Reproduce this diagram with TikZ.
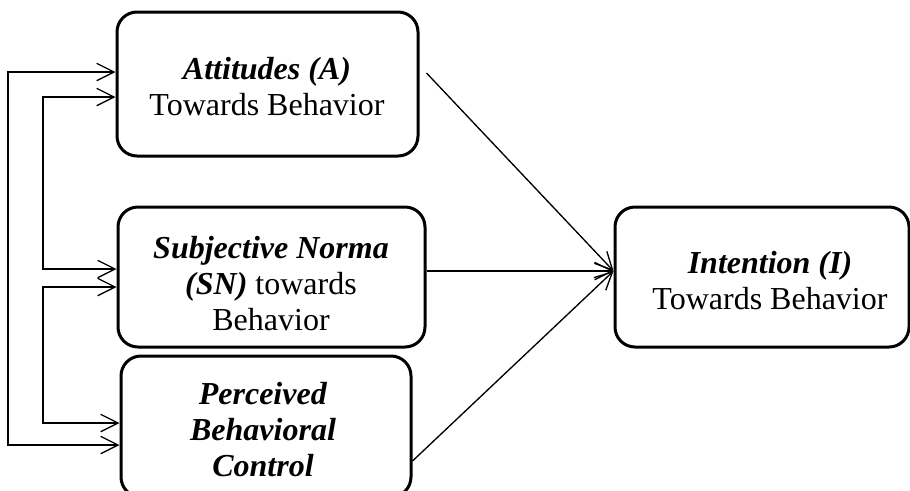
\documentclass[tikz,border=0pt]{standalone}
\usepackage{fontspec}
\setmainfont{Liberation Serif}
\usetikzlibrary{arrows.meta}
\begin{document}
\begin{tikzpicture}[x=0.75pt,y=-0.75pt,
  box/.style={draw, line width=2.25pt, rounded corners=15pt, inner sep=0pt},
  txt/.style={align=center, inner sep=0pt, font=\fontsize{24}{27}\selectfont},
  conn/.style={line width=1pt, -{Straight Barb[length=13pt,width=13pt]}},
  connb/.style={line width=1pt, {Straight Barb[length=13pt,width=13pt]}-{Straight Barb[length=13pt,width=13pt]}}]
\useasboundingbox (0,0) rectangle (910,490);
\clip (0,0) rectangle (910,490);
% boxes
\node[box, minimum width=225.75pt, minimum height=108pt] (A) at (267.5,84) {};
\node[box, minimum width=230.25pt, minimum height=105pt] (S) at (271.5,277) {};
\node[box, minimum width=217.5pt, minimum height=105.75pt] (P) at (266,426.5) {};
\node[box, minimum width=220.5pt, minimum height=105pt] (I) at (762,277) {};
% texts
\node[txt] (tA) at (267,87) {\textbf{\textit{Attitudes (A)}}\\Towards Behavior};
\node[txt] (tS) at (271,284) {\textbf{\textit{Subjective Norma}}\\\textbf{\textit{(SN)}} towards\\Behavior};
\node[txt] (tP) at (263,430) {\textbf{\textit{Perceived}}\\\textbf{\textit{Behavioral}}\\\textbf{\textit{Control}}};
\node[txt] (tI) at (770,281) {\textbf{\textit{Intention (I)}}\\Towards Behavior};
% left feedback connectors
\coordinate (o1) at (8,72);
\coordinate (o2) at (8,445);
\coordinate (i1) at (43,97);
\coordinate (i2) at (43,269);
\coordinate (i3) at (43,287);
\coordinate (i4) at (43,423);
\draw[connb] (A.west |- o1) -- (o1) -- (o2) -- (P.west |- o2);
\draw[connb] (A.west |- i1) -- (i1) -- (i2) -- (S.west |- i2);
\draw[connb] (S.west |- i3) -- (i3) -- (i4) -- (P.west |- i4);
% connectors to intention
\draw[conn] ([shift={(7,-11)}]A.east) -- ([shift={(0,-6)}]I.west);
\draw[conn] ([shift={(0,-6)}]S.east) -- ([shift={(0,-6)}]I.west);
\draw[conn] ([shift={(0,34.5)}]P.east) -- ([shift={(0,-6)}]I.west);
\end{tikzpicture}
\end{document}
